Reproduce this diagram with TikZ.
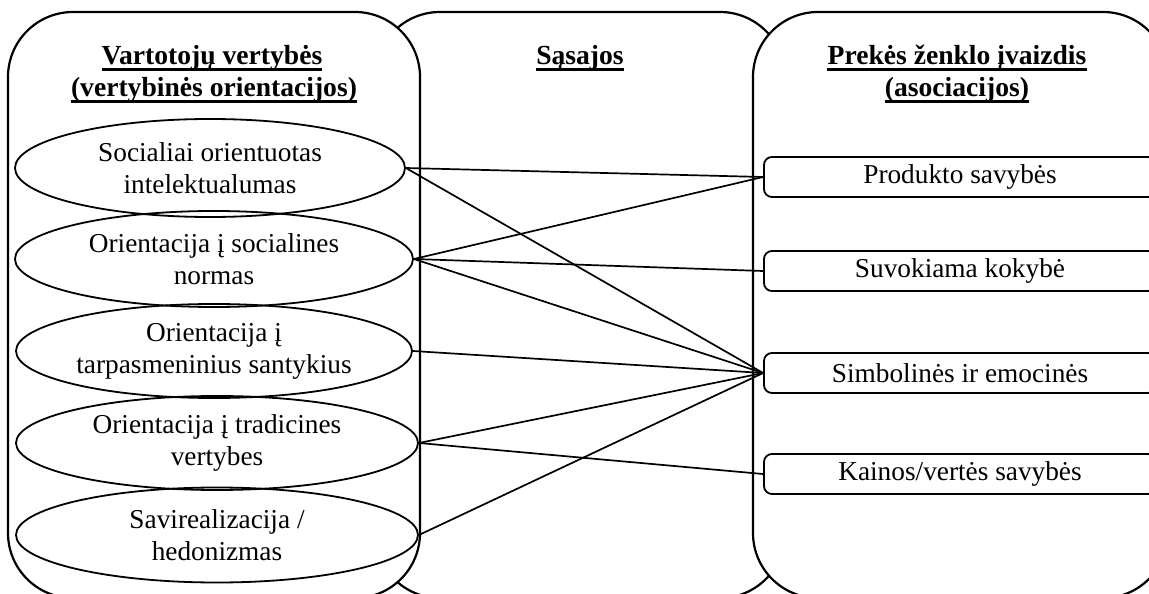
\documentclass[tikz,border=0pt]{standalone}
\usepackage{fontspec}
\setmainfont{Liberation Serif}
\usetikzlibrary{shapes.geometric}
\begin{document}
\begin{tikzpicture}[x=1bp,y=-1bp,
  panel/.style={draw, line width=2.2bp, fill=white, rounded corners=65bp},
  val/.style={ellipse, draw, line width=1.8bp, inner sep=0pt, align=center,
    font=\fontsize{27.3bp}{32bp}\selectfont},
  assoc/.style={draw, line width=1.8bp, rounded corners=8bp, minimum width=392bp,
    minimum height=40bp, inner sep=0pt, fill=white, font=\fontsize{27.3bp}{31bp}\selectfont},
  head/.style={inner sep=0pt, anchor=base, font=\fontsize{27.6bp}{32bp}\selectfont\bfseries},
  uline/.style={line width=2.4bp},
  link/.style={line width=1.7bp}]
\useasboundingbox (0,0) rectangle (1149,594);
\clip (0,0) rectangle (1149,594);
% panels
\path[panel] (375,12) rectangle (785,598);
\path[panel] (8,12) rectangle (420,598);
\path[panel] (753,12) rectangle (1168,598);
% headers
\node[head] (h1a) at (212,65) {Vartotojų vertybės};
\node[head] (h1b) at (214,97) {(vertybinės orientacijos)};
\node[head] (h2a) at (580,65) {Sąsajos};
\node[head] (h3a) at (957,65) {Prekės ženklo įvaizdis};
\node[head] (h3b) at (957,97) {(asociacijos)};
\foreach \h in {h1a,h1b,h2a,h3a,h3b}
  \draw[uline] ([yshift=-4.5bp]\h.base west) -- ([yshift=-4.5bp]\h.base east);
% values (ellipses)
\node[val, minimum width=390bp, minimum height=98bp] (e1) at (210,168) {Socialiai orientuotas\\intelektualumas};
\node[val, minimum width=398bp, minimum height=96bp] (e2) at (214,259) {Orientacija į socialines\\normas};
\node[val, minimum width=396bp, minimum height=94bp] (e3) at (214,351) {Orientacija į\\tarpasmeninius santykius};
\node[val, minimum width=402bp, minimum height=94bp] (e4) at (217,443) {Orientacija į tradicines\\vertybes};
\node[val, minimum width=402bp, minimum height=95bp] (e5) at (217,535) {Savirealizacija /\\hedonizmas};
% associations
\node[assoc] (r1) at (960,177) {Produkto savybės};
\node[assoc] (r2) at (960,271) {Suvokiama kokybė};
\node[assoc] (r3) at (960,373) {Simbolinės ir emocinės};
\node[assoc] (r4) at (960,474) {Kainos/vertės savybės};
% links
\draw[link] (e1.east) -- (r1.west);
\draw[link] (e1.east) -- (r3.west);
\draw[link] (e2.east) -- (r1.west);
\draw[link] (e2.east) -- (r2.west);
\draw[link] (e2.east) -- (r3.west);
\draw[link] (e3.east) -- (r3.west);
\draw[link] (e4.east) -- (r3.west);
\draw[link] (e4.east) -- (r4.west);
\draw[link] (e5.east) -- (r3.west);
\end{tikzpicture}
\end{document}
